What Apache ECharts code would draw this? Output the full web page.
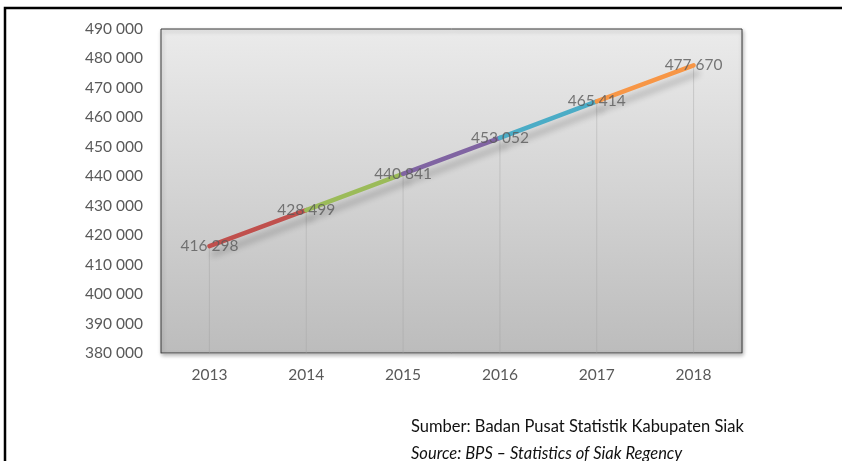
<!DOCTYPE html>
<html><head><meta charset="utf-8">
<script src="https://cdn.jsdelivr.net/npm/echarts@6/dist/echarts.min.js"></script>
<style>html,body{margin:0;padding:0;background:#fff}#c{width:842px;height:461px}</style>
</head><body><div id="c"></div>
<script>
const years = ['2013','2014','2015','2016','2017','2018'];
const population = [416298, 428499, 440841, 453052, 465414, 477670];
const segmentColors = ['#c0504d','#9bbb59','#8064a2','#4bacc6','#f79646'];
const yMin = 380000, yMax = 490000, yStep = 10000;
const sourceLine1 = 'Sumber: Badan Pusat Statistik Kabupaten Siak';
const sourceLine2 = 'Source: BPS \u2013 Statistics of Siak Regency';

const fmt = v => String(v).replace(/\B(?=(\d{3})+(?!\d))/g, ' ');
const FONT = 'Lato, "Open Sans", sans-serif';

const series = [];
series.push({
  type: 'bar', data: population, barWidth: 1, silent: true,
  itemStyle: { color: 'rgba(160,160,160,0.4)' }, z: 1
});
segmentColors.forEach((col, i) => {
  const d = population.map((v, j) => (j === i || j === i + 1) ? v : null);
  series.push({
    type: 'line', data: d, showSymbol: false, symbol: 'none', z: 3,
    lineStyle: { color: col, width: 4.5, cap: 'round',
      shadowColor: 'rgba(0,0,0,0.22)', shadowBlur: 6, shadowOffsetX: 4, shadowOffsetY: 8 }
  });
});
series.push({
  type: 'scatter', data: population, symbolSize: 0, z: 5, silent: true,
  label: { show: true, position: 'inside', formatter: p => fmt(p.value),
    color: '#595959', fontSize: 15.5, fontFamily: FONT }
});

const chart = echarts.init(document.getElementById('c'));
chart.setOption({
  animation: false,
  grid: { left: 161, right: 100, top: 29, bottom: 108, show: true,
    borderColor: '#3a3a3a', borderWidth: 1,
    backgroundColor: { type: 'linear', x: 0, y: 0, x2: 0, y2: 1,
      colorStops: [{ offset: 0, color: '#ebebeb' }, { offset: 1, color: '#bcbcbc' }] },
    shadowColor: 'rgba(0,0,0,0.3)', shadowBlur: 4, shadowOffsetX: 1, shadowOffsetY: 2 },
  xAxis: { type: 'category', data: years, boundaryGap: true,
    axisLine: { show: true, lineStyle: { color: '#9a9a9a' } }, axisTick: { show: false },
    axisLabel: { color: '#595959', fontSize: 15.5, fontFamily: FONT, margin: 14 },
    splitLine: { show: false } },
  yAxis: { type: 'value', min: yMin, max: yMax, interval: yStep,
    axisLine: { show: false }, axisTick: { show: false }, splitLine: { show: false },
    axisLabel: { color: '#595959', fontSize: 15.5, fontFamily: FONT, margin: 18, formatter: v => fmt(v) } },
  series: series,
  graphic: [
    { type: 'rect', shape: { x: 5, y: 8, width: 900, height: 500 }, z: 10, silent: true,
      style: { fill: 'none', stroke: '#000', lineWidth: 2.5 } },
    { type: 'text', left: 411, top: 418, z: 10,
      style: { text: sourceLine1, fill: '#111', fontSize: 16.5, fontFamily: FONT } },
    { type: 'text', left: 411, top: 445, z: 10,
      style: { text: sourceLine2, fill: '#111', fontSize: 16.5, fontStyle: 'italic', fontFamily: FONT } }
  ]
});
</script></body></html>
